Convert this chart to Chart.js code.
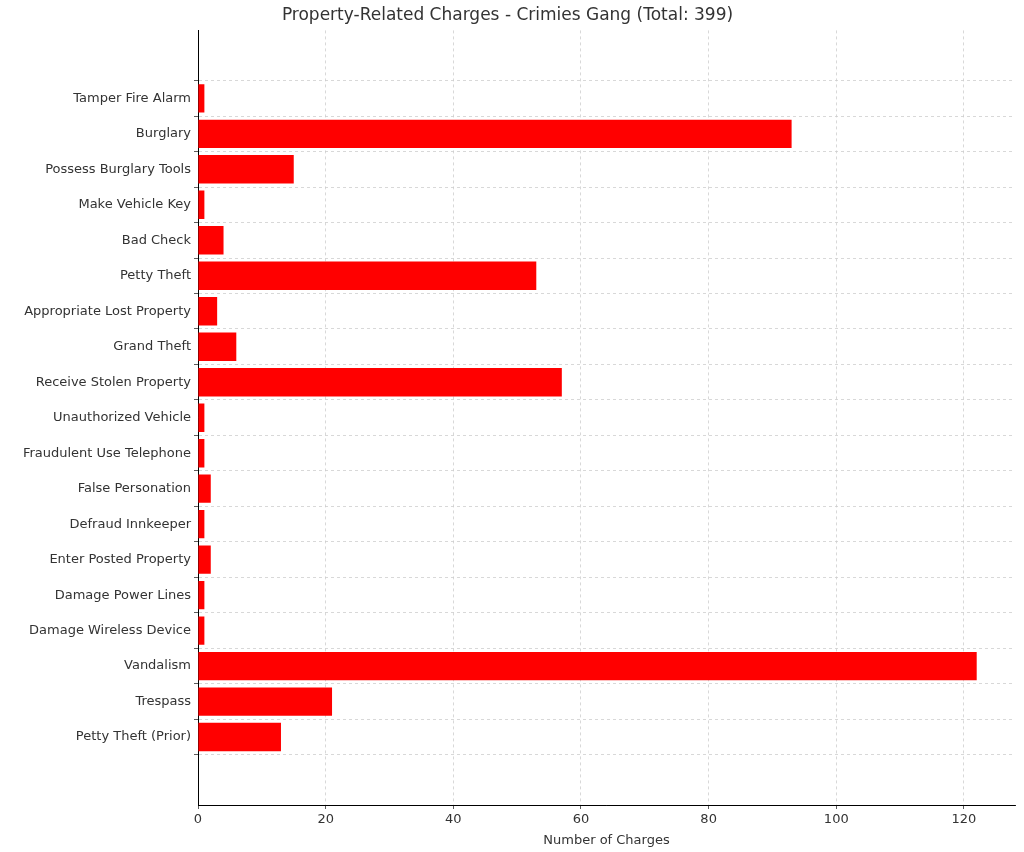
<!DOCTYPE html>
<html>
<head>
<meta charset="utf-8">
<script src="https://cdn.jsdelivr.net/npm/chart.js@4"></script>
<style>
  html, body { margin: 0; padding: 0; background: #fff; }
  #wrap { width: 1024px; height: 852px; }
</style>
</head>
<body>
<div id="wrap"><canvas id="chart"></canvas></div>
<script>
const categories = [
    'Tamper Fire Alarm', 'Burglary', 'Possess Burglary Tools', 'Make Vehicle Key',
    'Bad Check', 'Petty Theft', 'Appropriate Lost Property', 'Grand Theft',
    'Receive Stolen Property', 'Unauthorized Vehicle', 'Fraudulent Use Telephone',
    'False Personation', 'Defraud Innkeeper', 'Enter Posted Property',
    'Damage Power Lines', 'Damage Wireless Device', 'Vandalism', 'Trespass',
    'Petty Theft (Prior)'
];
const charges = [1, 93, 15, 1, 4, 53, 3, 6, 57, 1, 1, 2, 1, 2, 1, 1, 122, 21, 13];
const xTicks = [0, 20, 40, 60, 80, 100, 120];

const font = { family: 'DejaVu Sans', size: 13 };
const gridStyle = { color: '#cfcfcf', lineWidth: 0.8, tickLength: 4, tickColor: '#333' };

new Chart(document.getElementById('chart').getContext('2d'), {
    type: 'bar',
    data: {
        datasets: [{
            data: charges.map((v, i) => ({ x: v, y: i })),
            backgroundColor: '#ff0000',
            borderWidth: 0,
            categoryPercentage: 1,
            barPercentage: 0.8
        }]
    },
    options: {
        indexAxis: 'y',
        responsive: true,
        maintainAspectRatio: false,
        animation: false,
        layout: { padding: { left: 0, right: 9, top: 0, bottom: 0 } },
        plugins: {
            legend: { display: false },
            tooltip: { enabled: false },
            title: {
                display: true,
                text: 'Property-Related Charges - Crimies Gang (Total: 399)',
                color: '#333',
                font: { family: 'DejaVu Sans', size: 17, weight: 'normal' },
                padding: { top: 5, bottom: 5 }
            }
        },
        scales: {
            x: {
                type: 'linear',
                min: 0,
                max: 128,
                afterBuildTicks: s => { s.ticks = xTicks.map(v => ({ value: v })); },
                afterFit: s => { s.height = 47; },
                grid: { ...gridStyle },
                border: { display: true, color: '#000', width: 1, dash: [3, 3] },
                ticks: { color: '#333', font, padding: 3 },
                title: { display: true, text: 'Number of Charges', color: '#333', font, padding: { top: 2 } }
            },
            y: {
                type: 'linear',
                reverse: true,
                min: -1.34,
                max: 19.34,
                afterBuildTicks: s => { s.ticks = categories.map((_, i) => ({ value: i })); },
                afterFit: s => { s.width = 198; },
                grid: { ...gridStyle },
                border: { display: true, color: '#000', width: 1, dash: [3, 3] },
                ticks: {
                    color: '#333',
                    font,
                    padding: 3,
                    autoSkip: false,
                    callback: v => categories[v]
                }
            }
        }
    },
    plugins: [{
        id: 'dashGrid',
        beforeDraw: chart => {
            // dashed grid lines, solid axis lines
            chart.options.scales.x.grid.borderDash = [3, 3];
        }
    }]
});
</script>
</body>
</html>
